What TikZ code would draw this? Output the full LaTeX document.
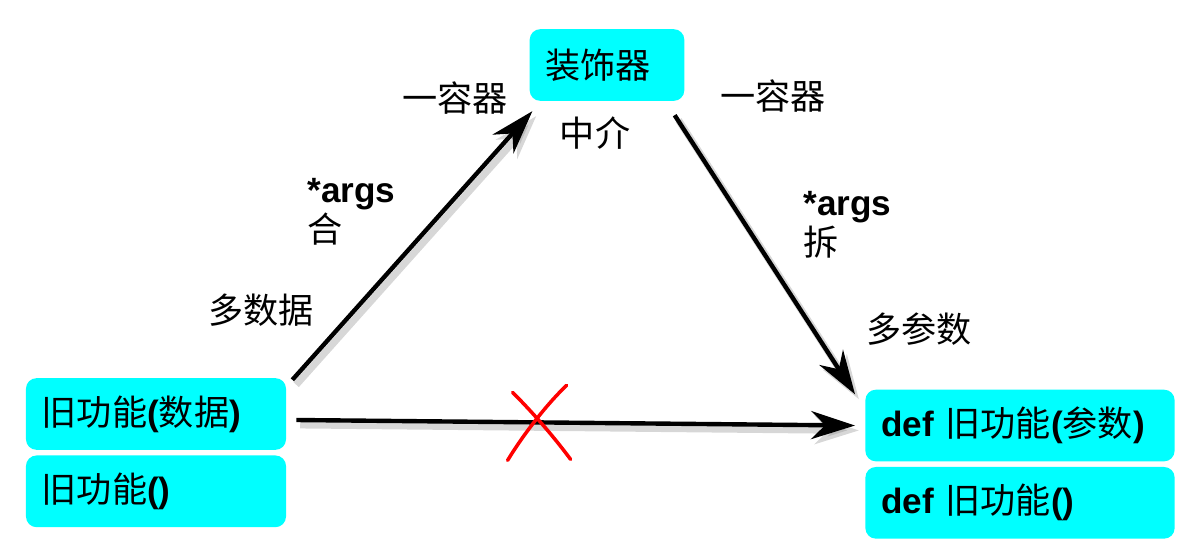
\documentclass[tikz,border=0pt]{standalone}
\usepackage{fontspec}
\setmainfont{Liberation Sans}
\newfontfamily\cjk{Noto Sans CJK SC}
\usetikzlibrary{calc,arrows.meta,positioning}
\newcommand{\zh}[1]{{\cjk #1}}
\definecolor{boxcyan}{RGB}{0,255,255}

\tikzset{
	fnbox/.style={fill=boxcyan, rounded corners=6pt, inner xsep=9pt, inner ysep=0pt,
		minimum height=40.8pt, align=left, font=\fontsize{20}{24}\selectfont},
	lbl/.style={inner sep=0pt, align=left, font=\fontsize{20}{23}\selectfont},
	conn/.style={line width=2.5pt, -{Stealth[length=25pt,width=16pt,inset=8pt]}},
	connshadow/.style={conn, draw=black!45, opacity=0.35, line width=4pt,
		transform canvas={shift={(2.2pt,-2.8pt)}}},
	cross/.style={draw=red, line width=2pt, line cap=round}
}

\begin{document}
\begin{tikzpicture}[x=0.02cm,y=-0.02cm]
		\useasboundingbox (0,0) rectangle (1192,552);
		% boxes
		\node[fnbox, text width=70pt] (deco) at (607,65) {\zh{装饰器}};
		\node[fnbox, text width=130pt] (old1) at (156,414) {\zh{旧功能}\textbf{(}\zh{数据}\textbf{)}};
		\node[fnbox, text width=130pt, below=2.8pt of old1] (old2) {\zh{旧功能}\textbf{()}};
		\node[fnbox, text width=158pt] (new1) at (1020,425.5) {\textbf{def} \zh{旧功能}\textbf{(}\zh{参数}\textbf{)}};
		\node[fnbox, text width=158pt, below=2.8pt of new1] (new2) {\textbf{def} \zh{旧功能}\textbf{()}};
		% labels
		\node[lbl] (contL) at (455,98) {\zh{一容器}};
		\node[lbl] (contR) at (773,96) {\zh{一容器}};
		\node[lbl] (medium) at (595,133) {\zh{中介}};
		\node[lbl, anchor=west] (pack) at (307,212) {\textbf{*args}\\\zh{合}};
		\node[lbl, anchor=west] (unpack) at (803,225) {\textbf{*args}\\\zh{拆}};
		\node[lbl] (manydata) at (261,310) {\zh{多数据}};
		\node[lbl] (manyparam) at (919,329) {\zh{多参数}};
		% arrows
		\coordinate (upS) at ($(old1.north east)+(6,2)$);
		\coordinate (upE) at ($(deco.south west)+(3,10)$);
		\coordinate (dnS) at ($(deco.south east)+(-10,14)$);
		\coordinate (dnE) at ($(new1.north west)+(-10,5)$);
		\coordinate (hzS) at ($(old1.east)+(10,6)$);
		\coordinate (hzE) at ($(new1.west)+(-10,0)$);
		\foreach \s/\e in {upS/upE,dnS/dnE,hzS/hzE}{
			\draw[connshadow] (\s) -- (\e);
			\draw[conn] (\s) -- (\e);
		}
		% red cross
		\coordinate (x0) at ($(hzS)!0.43!(hzE)$);
		\draw[cross] ($(x0)+(-24,-30)$) .. controls ($(x0)+(-8,-14)$) and ($(x0)+(14,10)$) .. ($(x0)+(34,37)$);
		\draw[cross] ($(x0)+(30,-37)$) .. controls ($(x0)+(12,-20)$) and ($(x0)+(-12,10)$) .. ($(x0)+(-29,38)$);
\end{tikzpicture}
\end{document}
